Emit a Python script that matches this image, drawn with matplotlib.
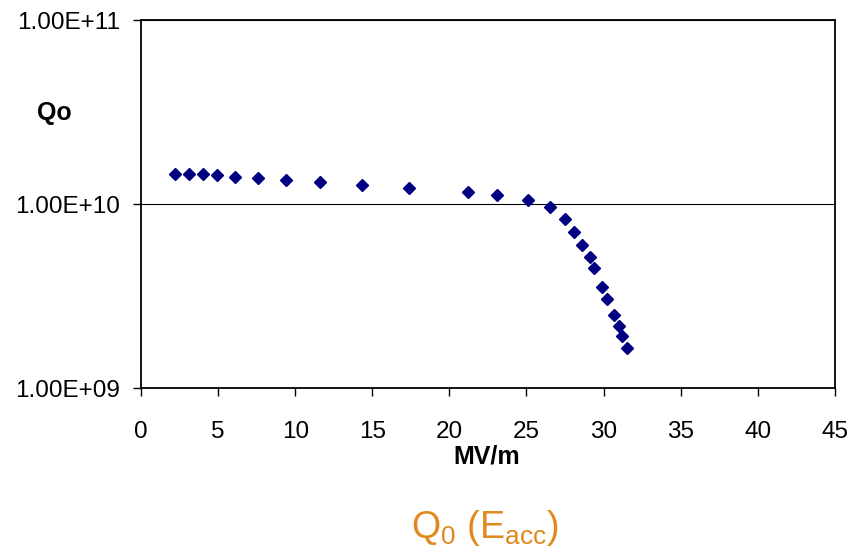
"""
Q0 vs Eacc, log scale scatter
"""

import math
import matplotlib
matplotlib.use('Agg')
import matplotlib.pyplot as plt
from matplotlib.ticker import FixedLocator, FuncFormatter, NullLocator

plt.rcParams['font.family'] = ['Liberation Sans', 'DejaVu Sans']
plt.rcParams['mathtext.fontset'] = 'custom'
plt.rcParams['mathtext.rm'] = 'Liberation Sans'
plt.rcParams['mathtext.it'] = 'Liberation Sans'

# accelerating field, MV/m
eacc = [2.2, 3.1, 4.0, 4.9, 6.1, 7.6, 9.4, 11.6, 14.3, 17.4,
        21.2, 23.1, 25.1, 26.5, 27.5, 28.1, 28.6, 29.1, 29.4,
        29.9, 30.2, 30.7, 31.0, 31.2, 31.5]
# quality factor
q0 = [1.46e10, 1.46e10, 1.46e10, 1.44e10, 1.41e10, 1.38e10, 1.35e10, 1.32e10, 1.27e10, 1.22e10,
      1.16e10, 1.12e10, 1.05e10, 0.96e10, 8.26e9, 7.05e9, 5.96e9, 5.13e9, 4.49e9,
      3.55e9, 3.06e9, 2.50e9, 2.17e9, 1.92e9, 1.66e9]

xticks = [0, 5, 10, 15, 20, 25, 30, 35, 40, 45]
yticks = [1e9, 1e10, 1e11]

fig = plt.figure(figsize=(8.5, 5.5), dpi=100)
ax = fig.add_axes([0.166, 0.2945, 0.816, 0.669])

ax.plot(eacc, q0, 'D', color='#000080', markersize=6, linestyle='none')

ax.set_yscale('log')
ax.set_xlim(0, 45)
ax.set_ylim(1e9, 1e11)
ax.xaxis.set_major_locator(FixedLocator(xticks))
ax.yaxis.set_major_locator(FixedLocator(yticks))
ax.yaxis.set_minor_locator(NullLocator())
ax.yaxis.set_major_formatter(FuncFormatter(lambda v, p: '1.00E+%02d' % round(math.log10(v))))
ax.tick_params(axis='both', direction='out', length=6, width=1, labelsize=17.5, colors='black')
ax.tick_params(axis='x', pad=18)
ax.tick_params(axis='y', pad=9)

ax.yaxis.grid(True, which='major', color='black', linewidth=0.8)
for s in ax.spines.values():
    s.set_linewidth(1.3)
    s.set_color('black')

fig.text(487 / 850, 1 - 457 / 550, 'MV/m', fontsize=18, fontweight='bold', ha='center', va='center')
fig.text(54 / 850, 1 - 113 / 550, 'Qo', fontsize=18, fontweight='bold', ha='center', va='center')

fig.text(485 / 850, 1 - 528 / 550, r'Q$_0$ (E$_{\mathrm{acc}}$)', fontsize=27,
         color='#E0891E', ha='center', va='center')

fig.savefig('out.png', dpi=100)
